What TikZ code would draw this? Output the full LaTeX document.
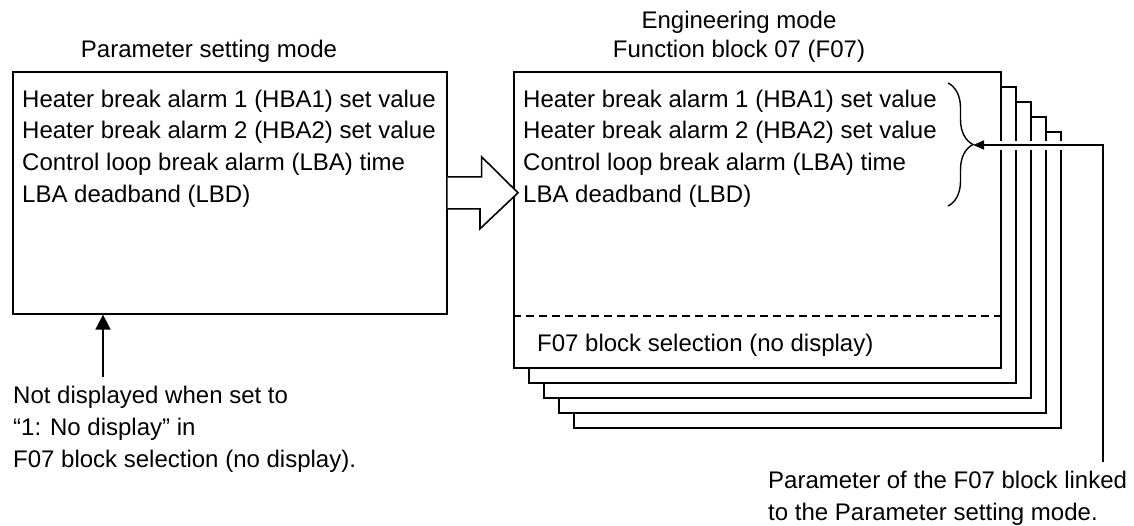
\documentclass[tikz,border=0pt]{standalone}
\usepackage{fontspec}
\setmainfont{Liberation Sans}
\usetikzlibrary{arrows.meta, decorations.pathreplacing}

\begin{document}
\begin{tikzpicture}[x=1pt, y=-1pt,
        txt/.style={inner sep=0pt, font=\fontsize{24}{32}\selectfont},
        page/.style={draw, line width=1.6pt, fill=white, inner sep=0pt, anchor=north west,
            minimum width=487pt, minimum height=296pt},
        hollow/.style={draw, line width=1.6pt, fill=white},
        upar/.style={line width=1.6pt, -{Triangle[length=15pt, width=15pt]}},
        lkar/.style={line width=1.6pt, -{Triangle[length=11pt, width=9pt]}}
    ]
    \useasboundingbox (0,0) rectangle (1134,525);
    % parameter setting mode
    \node[page, minimum width=434pt, minimum height=242pt] (psm) at (12,71) {};
    \node[txt, anchor=base] (psmt) at (209,57) {Parameter setting mode};
    % engineering mode, F07 with the other blocks behind it
    \foreach \i in {4,3,2,1}
        \node[page] (pg\i) at ({513+15*\i},{71+15*\i}) {};
    \node[page] (f07) at (513,71) {};
    \node[txt, anchor=base] (engt) at (739,28) {Engineering mode};
    \node[txt, anchor=base] (f07t) at (739,57) {Function block 07 (F07)};
    \foreach \x/\n in {22/p, 523/e}
        \foreach \t [count=\k from 0] in {Heater break alarm 1 (HBA1) set value,
                Heater break alarm 2 (HBA2) set value, Control loop break alarm (LBA) time,
                LBA deadband (LBD)}
            \node[txt, anchor=base west] (\n\k) at (\x,{107+31.7*\k}) {\t};
    \coordinate (sep) at (513,316);
    \draw[line width=1.2pt, dash pattern=on 8pt off 5pt] (sep) -- (sep -| f07.east);
    \node[txt, anchor=base west] (sel) at (537,351) {F07 block selection (no display)};
    % hollow arrow
    \draw[hollow] ([yshift=16pt]psm.east) -- ++(34,0) -- ++(0,-20)
        -- ([xshift=5pt]f07.west |- psm.east) -- ++(-38,36) -- ++(0,-20) -- ([yshift=-16pt]psm.east);
    % notes
    \node[txt, align=left, anchor=north west] (nd) at (13,386)
        {Not displayed when set to\\“1: No display” in\\F07 block selection (no display).};
    \coordinate (ndp) at (103,377);
    \draw[upar] (ndp) -- (ndp |- psm.south);
    \node[txt, align=left, anchor=north west] (lkt) at (768,471)
        {Parameter of the F07 block linked\\to the Parameter setting mode.};
    \coordinate (bt) at (973,145);
    \coordinate (lk) at (1103,462);
    \draw[white, line width=9pt] ([xshift=14pt]bt) -- (lk |- bt);
    \draw[lkar] (lk) |- (bt);
    \draw[line width=1.4pt, decorate, decoration={brace, amplitude=25pt}] (948,83) -- (948,206);
\end{tikzpicture}
\end{document}
